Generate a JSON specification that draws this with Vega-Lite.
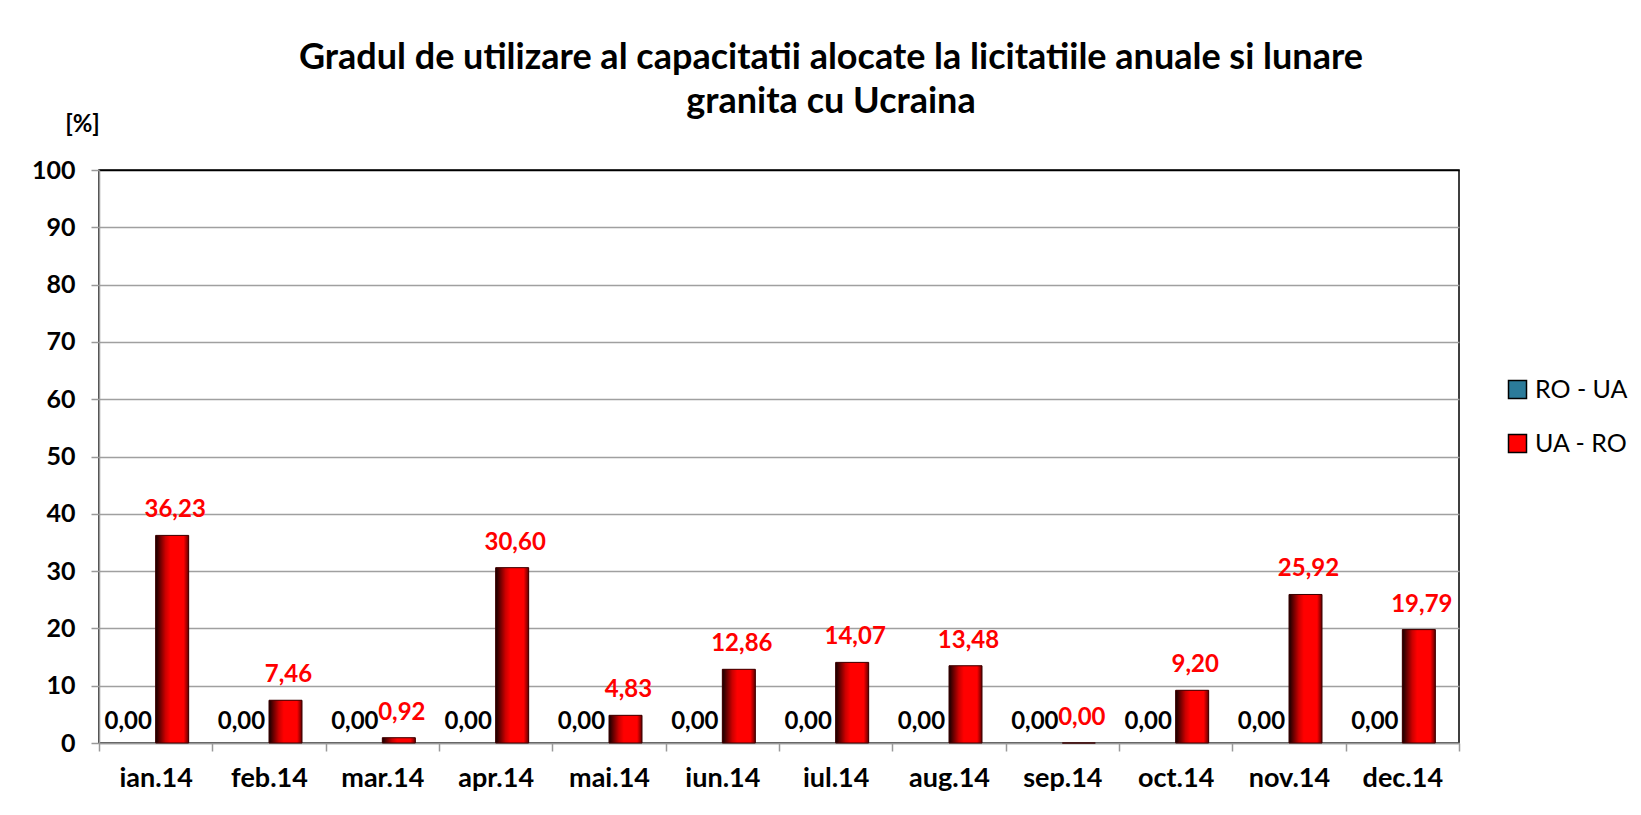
{
  "$schema": "https://vega.github.io/schema/vega-lite/v6.json",
  "width": 1360,
  "height": 573,
  "autosize": {"type": "none"},
  "padding": {"left": 99, "top": 170, "right": 182, "bottom": 72},
  "background": "white",
  "config": {
    "locale": {"number": {"decimal": ",", "thousands": ".", "grouping": [3], "currency": ["", ""]}},
    "font": "Lato",
    "view": {"stroke": "#000000", "strokeWidth": 1.5}
  },
  "title": {
    "text": ["Gradul de utilizare al capacitatii alocate la licitatiile anuale si lunare", "granita cu Ucraina"],
    "font": "Lato",
    "fontSize": 36,
    "fontWeight": "bold",
    "color": "#000000",
    "anchor": "middle",
    "frame": "group",
    "dx": 52,
    "offset": -9,
    "lineHeight": 44
  },
  "data": {
    "values": [
      {"month": "ian.14", "series": "RO - UA", "value": 0},
      {"month": "ian.14", "series": "UA - RO", "value": 36.23},
      {"month": "feb.14", "series": "RO - UA", "value": 0},
      {"month": "feb.14", "series": "UA - RO", "value": 7.46},
      {"month": "mar.14", "series": "RO - UA", "value": 0},
      {"month": "mar.14", "series": "UA - RO", "value": 0.92},
      {"month": "apr.14", "series": "RO - UA", "value": 0},
      {"month": "apr.14", "series": "UA - RO", "value": 30.60},
      {"month": "mai.14", "series": "RO - UA", "value": 0},
      {"month": "mai.14", "series": "UA - RO", "value": 4.83},
      {"month": "iun.14", "series": "RO - UA", "value": 0},
      {"month": "iun.14", "series": "UA - RO", "value": 12.86},
      {"month": "iul.14", "series": "RO - UA", "value": 0},
      {"month": "iul.14", "series": "UA - RO", "value": 14.07},
      {"month": "aug.14", "series": "RO - UA", "value": 0},
      {"month": "aug.14", "series": "UA - RO", "value": 13.48},
      {"month": "sep.14", "series": "RO - UA", "value": 0},
      {"month": "sep.14", "series": "UA - RO", "value": 0},
      {"month": "oct.14", "series": "RO - UA", "value": 0},
      {"month": "oct.14", "series": "UA - RO", "value": 9.20},
      {"month": "nov.14", "series": "RO - UA", "value": 0},
      {"month": "nov.14", "series": "UA - RO", "value": 25.92},
      {"month": "dec.14", "series": "RO - UA", "value": 0},
      {"month": "dec.14", "series": "UA - RO", "value": 19.79}
    ]
  },
  "encoding": {
    "x": {
      "field": "month",
      "type": "nominal",
      "sort": null,
      "scale": {"paddingInner": 0, "paddingOuter": 0},
      "axis": {
        "title": null,
        "labelAngle": 0,
        "labelFont": "Lato",
        "labelFontSize": 27,
        "labelFontWeight": "bold",
        "labelColor": "#000000",
        "labelPadding": 14,
        "tickSize": 8,
        "tickBand": "extent",
        "tickColor": "#999999",
        "tickWidth": 1.5,
        "domainColor": "#999999",
        "domainWidth": 1.5
      }
    },
    "xOffset": {
      "field": "series",
      "type": "nominal",
      "scale": {"domain": ["RO - UA", "UA - RO"], "paddingInner": 0, "paddingOuter": 0.717}
    },
    "y": {
      "field": "value",
      "type": "quantitative",
      "scale": {"domain": [0, 100], "nice": false},
      "axis": {
        "title": "[%]",
        "titleAngle": 0,
        "titleX": -17,
        "titleY": -46,
        "titleAlign": "center",
        "titleBaseline": "middle",
        "titleFont": "Lato",
        "titleFontSize": 24,
        "titleFontWeight": "bold",
        "titleColor": "#000000",
        "values": [0, 10, 20, 30, 40, 50, 60, 70, 80, 90, 100],
        "labelFont": "Lato",
        "labelFontSize": 25,
        "labelFontWeight": "bold",
        "labelColor": "#000000",
        "labelPadding": 16,
        "labelFlush": false,
        "tickSize": 8,
        "tickColor": "#999999",
        "tickWidth": 1.5,
        "domainColor": "#999999",
        "domainWidth": 1.5,
        "gridColor": {"condition": {"test": "datum.value === 100", "value": "#000000"}, "value": "#a0a0a0"},
        "gridWidth": 1.5
      }
    }
  },
  "layer": [
    {
      "mark": {"type": "bar"},
      "encoding": {
        "color": {
          "field": "series",
          "type": "nominal",
          "scale": {"domain": ["RO - UA", "UA - RO"], "range": ["#2b7b9a", "#ff0000"]},
          "legend": {
            "title": null,
            "orient": "none",
            "legendX": 1406,
            "legendY": 207,
            "padding": 0,
            "labelFont": "Lato",
            "labelFontSize": 25,
            "labelColor": "#000000",
            "labelOffset": 5,
            "rowPadding": 28,
            "symbolType": "square",
            "symbolSize": 324,
            "symbolStrokeColor": "#000000",
            "symbolStrokeWidth": 1.5
          }
        }
      }
    },
    {
      "transform": [{"filter": "datum.series === 'UA - RO'"}],
      "mark": {
        "type": "bar",
        "fill": {
          "gradient": "linear",
          "x1": 0, "y1": 0, "x2": 1, "y2": 0,
          "stops": [
            {"offset": 0, "color": "#140000"},
            {"offset": 0.3, "color": "#cc0000"},
            {"offset": 0.45, "color": "#ff0000"},
            {"offset": 0.85, "color": "#ff0000"},
            {"offset": 1, "color": "#600000"}
          ]
        },
        "stroke": "#3a0000",
        "strokeWidth": 1
      }
    },
    {
      "transform": [{"filter": "datum.series === 'RO - UA'"}],
      "mark": {"type": "text", "baseline": "alphabetic", "align": "center", "dx": -11, "dy": -14, "font": "Lato", "fontSize": 24, "fontWeight": "bold", "color": "#000000"},
      "encoding": {
        "text": {"field": "value", "type": "quantitative", "format": ".2f"}
      }
    },
    {
      "transform": [{"filter": "datum.series === 'UA - RO'"}],
      "mark": {"type": "text", "baseline": "alphabetic", "align": "center", "dx": 3, "dy": -18, "font": "Lato", "fontSize": 24, "fontWeight": "bold", "color": "#ff0000"},
      "encoding": {
        "text": {"field": "value", "type": "quantitative", "format": ".2f"}
      }
    }
  ]
}
